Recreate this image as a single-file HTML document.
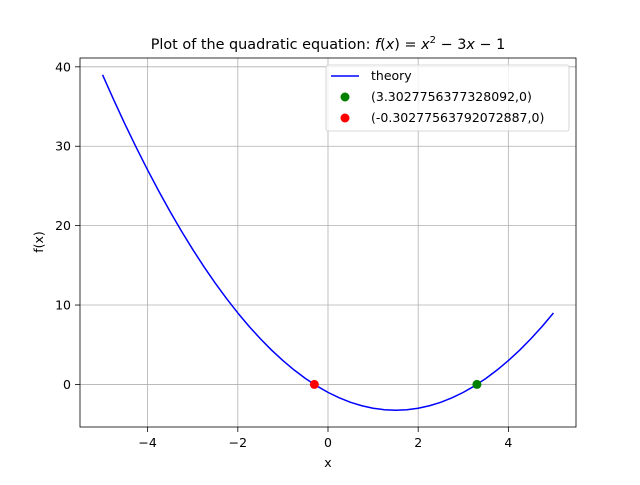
<!DOCTYPE html>
<html><head><meta charset="utf-8"><style>
body{margin:0;background:#fff;}
svg text{font-family:"DejaVu Sans","Liberation Sans",sans-serif;}
</style></head><body>
<svg id="chart" width="640" height="480" viewBox="0 0 640 480" xmlns="http://www.w3.org/2000/svg">
<rect width="640" height="480" fill="#fff"/>
<text x="328" y="49" font-size="14.4" text-anchor="middle">Plot of the quadratic equation: <tspan font-style="italic">f</tspan>(<tspan font-style="italic">x</tspan>) = <tspan font-style="italic">x</tspan><tspan dy="-6" font-size="10">2</tspan><tspan dy="6"> − 3</tspan><tspan font-style="italic">x</tspan> − 1</text>
<g id="grid"></g>
<g id="ticks"></g>
<g id="marks"></g>
<rect x="80" y="58" width="496" height="369" fill="none" stroke="#000" stroke-width="0.8"/>
<text x="328" y="467" font-size="12.5" text-anchor="middle">x</text>
<text x="43" y="242" font-size="12.5" text-anchor="middle" transform="rotate(-90 43 242)">f(x)</text>
<g>
<rect x="326" y="65" width="243" height="66" rx="2" fill="#fff" fill-opacity="0.8" stroke="#ccc" stroke-width="0.8"/>
<line x1="331" y1="76" x2="359" y2="76" stroke="#0000ff" stroke-width="1.5"/>
<text x="371" y="80" font-size="12.5">theory</text>
<circle cx="345" cy="97" r="4.5" fill="green"/>
<text x="371" y="101" font-size="12.5">(3.3027756377328092,0)</text>
<circle cx="345" cy="118" r="4.5" fill="red"/>
<text x="371" y="122" font-size="12.5">(-0.30277563792072887,0)</text>
</g>
</svg>
<script>
const xs=[-5,-4.75,-4.5,-4.25,-4,-3.75,-3.5,-3.25,-3,-2.75,-2.5,-2.25,-2,-1.75,-1.5,-1.25,-1,-0.75,-0.5,-0.25,0,0.25,0.5,0.75,1,1.25,1.5,1.75,2,2.25,2.5,2.75,3,3.25,3.5,3.75,4,4.25,4.5,4.75,5];
const ys=[39,35.8125,32.75,29.8125,27,24.3125,21.75,19.3125,17,14.8125,12.75,10.8125,9,7.3125,5.75,4.3125,3,1.8125,0.75,-0.1875,-1,-1.6875,-2.25,-2.6875,-3,-3.1875,-3.25,-3.1875,-3,-2.6875,-2.25,-1.6875,-1,-0.1875,0.75,1.8125,3,4.3125,5.75,7.3125,9];
const rootsX=[3.3027756377328092,-0.30277563792072887];
const rootsY=[0,0];
const rootColors=['green','red'];
const xTicks=[-4,-2,0,2,4];
const yTicks=[0,10,20,30,40];
const X0=-5.5,X1=5.5,Y0=-5.3625,Y1=41.1125;
const L=80,R=576,T=58,B=427;
const sx=v=>L+(v-X0)/(X1-X0)*(R-L);
const sy=v=>B-(v-Y0)/(Y1-Y0)*(B-T);
const NS='http://www.w3.org/2000/svg';
function mk(tag,attrs,parent){const e=document.createElementNS(NS,tag);for(const k in attrs)e.setAttribute(k,attrs[k]);document.getElementById(parent).appendChild(e);return e;}
xTicks.forEach(t=>{
 let g=mk('line',{x1:sx(t),x2:sx(t),y1:T,y2:B,stroke:'#b0b0b0','stroke-width':0.8},'grid');
 
 
 let k=mk('line',{x1:sx(t),x2:sx(t),y1:B,y2:B+5,stroke:'#000','stroke-width':0.8},'ticks');
 
 
 let l=mk('text',{x:sx(t),y:B+20,'font-size':12.5,'text-anchor':'middle'},'ticks');
 l.textContent=(t<0?'−':'')+Math.abs(t);
 
 
});
yTicks.forEach(t=>{
 let g=mk('line',{x1:L,x2:R,y1:sy(t),y2:sy(t),stroke:'#b0b0b0','stroke-width':0.8},'grid');
 
 
 let k=mk('line',{x1:L-5,x2:L,y1:sy(t),y2:sy(t),stroke:'#000','stroke-width':0.8},'ticks');
 
 
 let l=mk('text',{x:L-9,y:sy(t)+4.5,'font-size':12.5,'text-anchor':'end'},'ticks');
 l.textContent=t;
 
 
});
const pts=xs.map((x,i)=>sx(x)+','+sy(ys[i])).join(' ');
let pl=mk('polyline',{points:pts,fill:'none',stroke:'#0000ff','stroke-width':1.5,'stroke-linejoin':'round'},'marks');


rootsX.forEach((x,i)=>{
 let c=mk('circle',{cx:sx(x),cy:sy(rootsY[i]),r:4.5,fill:rootColors[i]},'marks');
 
 
});
</script>
</body></html>
